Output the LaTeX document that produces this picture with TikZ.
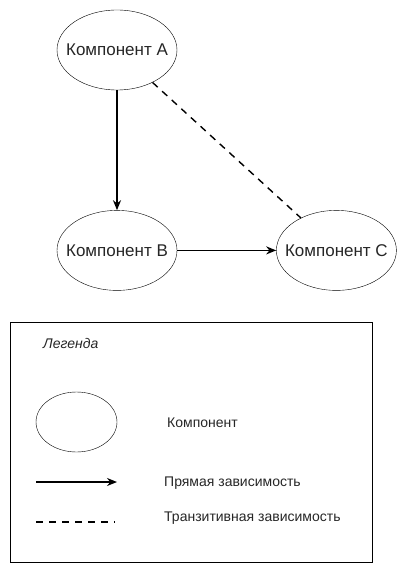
\documentclass[tikz,border=0pt]{standalone}
\usepackage{fontspec}
\setmainfont{Liberation Sans}
\usetikzlibrary{positioning,arrows.meta,shapes.geometric}

\begin{document}
\begin{tikzpicture}[x = 1pt, y = 1pt,
comp/.style = {draw, shape = ellipse, minimum width = 120pt, minimum height = 80pt, inner xsep = -12pt, inner ysep = 0pt, text = black!85, font = \fontsize{17}{19}\selectfont},
dep/.style = {line width = 1.7pt, -{Stealth[length = 10pt, width = 8pt]}},
trans/.style = {line width = 1.4pt, dash pattern = on 7pt off 6pt},
legtext/.style = {anchor = west, inner sep = 0pt, text = black!85, font = \fontsize{14}{16}\selectfont}]
\useasboundingbox (0,0) rectangle (408,-575);
\node[comp] (A) at (117,-50) {Компонент A};
\node[comp, below = 120pt of A] (B) {Компонент B};
\node[comp, right = 99pt of B] (C) {Компонент C};
\draw[dep] (A) -- (B);
\draw[dep] (B) -- (C);
\draw[trans] (A) -- (C);
% legend
\node[draw, anchor = north west, minimum width = 362pt, minimum height = 240pt, inner sep = 0pt] (legend) at (10,-322) {};
\node[legtext, font = \fontsize{14}{16}\selectfont\itshape] (legtitle) at (43,-343) {Легенда};
\node[comp, minimum width = 81pt, minimum height = 60pt] (legcomp) at (76.5,-422) {};
\node[legtext] (legcomptext) at (167,-423) {Компонент};
\coordinate (depstart) at (36,-482);
\coordinate (depend) at (117,-482);
\draw[dep] (depstart) -- (depend);
\node[legtext] (deptext) at (164,-483) {Прямая зависимость};
\coordinate (transstart) at (36,-522);
\coordinate (transend) at (115,-522);
\draw[trans] (transstart) -- (transend);
\node[legtext] (transtext) at (164,-518) {Транзитивная зависимость};
\end{tikzpicture}
\end{document}
